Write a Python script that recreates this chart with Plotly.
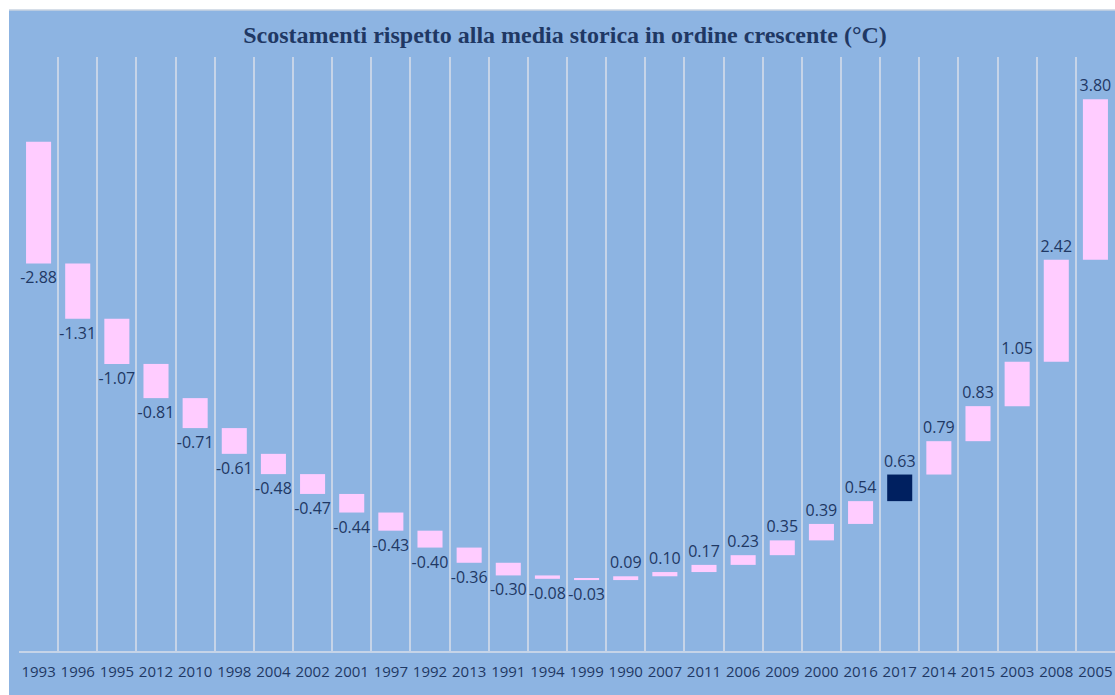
import plotly.graph_objects as go

years = ["1993", "1996", "1995", "2012", "2010", "1998", "2004", "2002", "2001", "1997",
         "1992", "2013", "1991", "1994", "1999", "1990", "2007", "2011", "2006", "2009",
         "2000", "2016", "2017", "2014", "2015", "2003", "2008", "2005"]
values = [-2.88, -1.31, -1.07, -0.81, -0.71, -0.61, -0.48, -0.47, -0.44, -0.43,
          -0.40, -0.36, -0.30, -0.08, -0.03, 0.09, 0.10, 0.17, 0.23, 0.35,
          0.39, 0.54, 0.63, 0.79, 0.83, 1.05, 2.42, 3.80]
highlight_year = "2017"

title = "Scostamenti rispetto alla media storica in ordine crescente (°C)"

# floating (waterfall) bases from cumulative sums
bases = []
run = 0.0
for v in values:
    bases.append(run)
    run += v

bg = "#8DB4E2"
pink = "#FFCCFF"
navy = "#002060"
textc = "#1F3864"
gridc = "#C6D4E8"

colors = [navy if y == highlight_year else pink for y in years]
labels = [f"{v:.2f}" for v in values]

fig = go.Figure()
fig.add_trace(go.Bar(
    x=years, y=values, base=bases,
    marker=dict(color=colors, line=dict(width=0)),
    text=labels, textposition="outside", cliponaxis=False, constraintext="none",
    textfont=dict(family="Open Sans", size=16, color=textc),
    hoverinfo="skip",
))

W, H = 1115, 695
L, R, T, B = 19, 0, 57, 44
pw = W - L - R
ph = H - T - B

fig.update_layout(
    width=W, height=H,
    margin=dict(l=L, r=R, t=T, b=B),
    paper_bgcolor=bg, plot_bgcolor=bg,
    bargap=0.36,
    showlegend=False,
    title=dict(text="<b>" + title + "</b>", x=565 / W, xanchor="center",
               y=1 - 35 / H, yanchor="middle", yref="container",
               font=dict(family="Liberation Serif", size=24, color=textc)),
    xaxis=dict(type="category", tickson="boundaries", showgrid=True, gridcolor=gridc,
               gridwidth=2, ticks="", showline=True, linecolor=gridc, linewidth=2,
               tickangle=0, ticklabelstandoff=6,
               tickfont=dict(family="Open Sans", size=15, color=textc), fixedrange=True),
    yaxis=dict(range=[-12.06, 2.01], visible=False, showgrid=False, zeroline=False,
               fixedrange=True),
    shapes=[
        dict(type="rect", xref="paper", yref="paper", layer="above",
             x0=-L / pw, x1=-(L - 9) / pw, y0=-B / ph, y1=(ph + T) / ph,
             fillcolor="white", line=dict(width=0)),
        dict(type="rect", xref="paper", yref="paper", layer="above",
             x0=-L / pw, x1=(pw + R) / pw, y0=(ph + T - 10) / ph, y1=(ph + T) / ph,
             fillcolor="white", line=dict(width=0)),
        dict(type="line", xref="paper", yref="paper", layer="above",
             x0=-(L - 9) / pw, x1=(pw + R) / pw, y0=(ph + T - 10) / ph, y1=(ph + T - 10) / ph,
             line=dict(color="#C9D3E0", width=1.5)),
    ],
)

fig.write_html("out.html", config={"displayModeBar": False},
               post_script="document.body.style.margin='0';document.body.style.overflow='hidden';")
